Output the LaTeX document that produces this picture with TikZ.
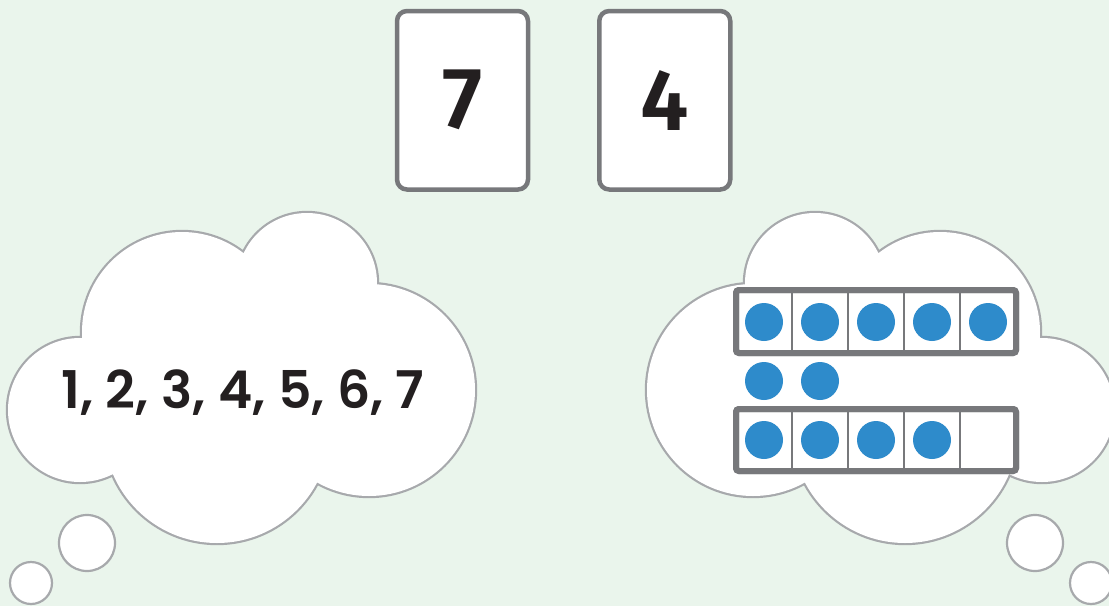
\documentclass[tikz,border=0pt]{standalone}
\usepackage{fontspec}
\setmainfont{Fira Sans}
\newfontfamily\listfont{Poppins SemiBold}
\newfontfamily\cardfont{Fira Sans SemiBold}
\definecolor{bgc}{HTML}{EAF5EC}
\definecolor{cloudgrey}{HTML}{A7A9AC}
\definecolor{framegrey}{HTML}{77787B}
\definecolor{dotblue}{HTML}{2E8BCB}
\definecolor{inkc}{HTML}{231F20}
\begin{document}
\begin{tikzpicture}[x=1pt,y=-1pt,
  card/.style={draw=framegrey,line width=4.5pt,fill=white,rounded corners=10pt,
    minimum width=131pt,minimum height=178.5pt,inner sep=0pt,text=inkc,
    font=\cardfont\fontsize{87}{90}\selectfont},
  cloudedge/.style={draw=cloudgrey,line width=4.4pt},
  bubble/.style={draw=cloudgrey,line width=2.2pt,fill=white},
  tenframe/.style={draw=framegrey,line width=6pt,rounded corners=3pt,fill=white},
  divider/.style={draw=framegrey,line width=2pt},
  counter/.style={circle,fill=dotblue,minimum size=38pt,inner sep=0pt}]
\useasboundingbox (0,0) rectangle (1109,606);
\fill[bgc] (0,0) rectangle (1109,606);
% cards
\node[card] (card7) at (462.5,100.25) {7};
\node[card] (card4) at (664.75,100.25) {4};
% left cloud
\def\leftlobes{(182,332) circle[radius=100] (307,283) circle[radius=70]
  (369,390) circle[radius=106] (217,430) circle[radius=113] (80,410) circle[radius=72]
  (230,380) circle[radius=100]}
\path[cloudedge] \leftlobes;
\fill[white] \leftlobes;
\draw[bubble] (87,543) circle[radius=28];
\draw[bubble] (31,583) circle[radius=21];
\node[font=\listfont\fontsize{52}{60}\selectfont,text=inkc] (list) at (243,393) {1, 2, 3, 4, 5, 6, 7};
% right cloud
\def\rightlobes{(940,332) circle[radius=100] (815,283) circle[radius=70]
  (753,390) circle[radius=106] (905,430) circle[radius=113] (1042,410) circle[radius=72]
  (892,380) circle[radius=100]}
\path[cloudedge] \rightlobes;
\fill[white] \rightlobes;
\draw[bubble] (1035,543) circle[radius=28];
\draw[bubble] (1091,583) circle[radius=21];
% ten frames
\path[tenframe] (736,290) rectangle (1016,353);
\path[tenframe] (736,409) rectangle (1016,471);
\foreach \x in {792,848,904,960}{
  \draw[divider] (\x,291) -- (\x,352);
  \draw[divider] (\x,410) -- (\x,470);
}
\path[tenframe,fill=none] (736,290) rectangle (1016,353);
\path[tenframe,fill=none] (736,409) rectangle (1016,471);
\foreach \i/\x in {1/764,2/820,3/876,4/932,5/988}{
  \node[counter] (top\i) at (\x,322) {};
}
\foreach \i/\x in {1/764,2/820,3/876,4/932}{
  \node[counter] (bot\i) at (\x,440) {};
}
\node[counter] (mid1) at (764,381) {};
\node[counter] (mid2) at (820,381) {};
\end{tikzpicture}
\end{document}
